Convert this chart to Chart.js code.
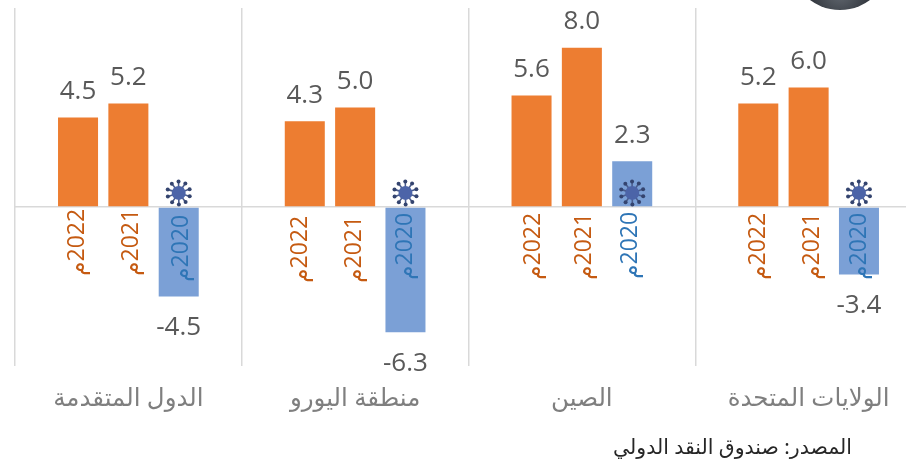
<!DOCTYPE html>
<html>
<head>
<meta charset="utf-8">
<script src="https://cdn.jsdelivr.net/npm/chart.js@4"></script>
<style>
  html, body { margin: 0; padding: 0; background: #fff; overflow: hidden; }
  #wrap { width: 906px; height: 463px; overflow: hidden; position: relative; }
  #chart { position: absolute; left: 0; top: 0; }
</style>
</head>
<body>
<div id="wrap"><canvas id="chart" width="940" height="463"></canvas></div>
<script>
const regions = ["الدول المتقدمة", "منطقة اليورو", "الصين", "الولايات المتحدة"];
const yearLabels = ["2022م", "2021م", "2020م"];
const values2022 = [4.5, 4.3, 5.6, 5.2];
const values2021 = [5.2, 5.0, 8.0, 6.0];
const values2020 = [-4.5, -6.3, 2.3, -3.4];
const sourceText = "المصدر: صندوق النقد الدولي";

// the year labels were placed by hand in the original, so each one has its own nudge
const yearNudgeX = [[-1, -4, 2, 0], [3, -1, 2.5, 4], [3, 0, -2, 0]];
const yearNudgeY = [[2, 9, 6, 6], [2, 9, 6, 6], [8, 6, 5, 6]];

const ORANGE = "#ed7d31";
const BLUE = "#7ba0d6";
const YEAR_ORANGE = "#c55a11";
const YEAR_BLUE = "#2e75b6";
const ARABIC_FONT = '"Noto Sans", "DejaVu Sans", sans-serif';

function drawVirus(ctx, x, y) {
  ctx.save();
  ctx.translate(x, y);
  ctx.strokeStyle = "#4a5c8c";
  ctx.fillStyle = "#34446f";
  ctx.lineWidth = 1.6;
  for (let i = 0; i < 10; i++) {
    const a = (i / 10) * Math.PI * 2 + 0.3;
    ctx.beginPath();
    ctx.moveTo(Math.cos(a) * 6, Math.sin(a) * 6);
    ctx.lineTo(Math.cos(a) * 11, Math.sin(a) * 11);
    ctx.stroke();
    ctx.beginPath();
    ctx.arc(Math.cos(a) * 11.5, Math.sin(a) * 11.5, 2, 0, Math.PI * 2);
    ctx.fill();
  }
  ctx.beginPath();
  ctx.arc(0, 0, 7, 0, Math.PI * 2);
  ctx.fillStyle = "#4c64a8";
  ctx.fill();
  ctx.restore();
}

const annotations = {
  id: "annotations",
  afterDatasetsDraw(chart) {
    const ctx = chart.ctx;
    const zero = chart.scales.y.getPixelForValue(0);

    chart.data.datasets.forEach((ds, d) => {
      chart.getDatasetMeta(d).data.forEach((bar, i) => {
        const v = ds.data[i];

        // value above / below the bar
        ctx.save();
        ctx.font = '26px "Open Sans", sans-serif';
        ctx.fillStyle = "#595959";
        ctx.textAlign = "center";
        ctx.textBaseline = "middle";
        ctx.fillText(v.toFixed(1), bar.x, v >= 0 ? bar.y - 26 : bar.y + 31);
        ctx.restore();

        if (d === 2) drawVirus(ctx, bar.x, zero - 14);

        // year rotated to read upward, right end of the text at the top
        ctx.save();
        ctx.translate(bar.x + yearNudgeX[d][i], zero + yearNudgeY[d][i]);
        ctx.rotate(-Math.PI / 2);
        ctx.font = '23px "Open Sans", ' + ARABIC_FONT;
        ctx.fillStyle = d === 2 ? YEAR_BLUE : YEAR_ORANGE;
        ctx.direction = "rtl";
        ctx.textAlign = "right";
        ctx.textBaseline = "middle";
        ctx.fillText(yearLabels[d], 0, 0);
        ctx.restore();
      });
    });

    // source line
    ctx.save();
    ctx.font = "20.5px " + ARABIC_FONT;
    ctx.fillStyle = "#262626";
    ctx.direction = "rtl";
    ctx.textAlign = "right";
    ctx.textBaseline = "middle";
    ctx.fillText(sourceText, 852, 448);
    ctx.restore();

    // emblem cut off by the top edge
    ctx.save();
    const g = ctx.createRadialGradient(840, -8, 4, 840, -8, 30);
    g.addColorStop(0, "#5d636b");
    g.addColorStop(1, "#33383f");
    ctx.beginPath();
    ctx.arc(840, -40, 50, 0, Math.PI * 2);
    ctx.fillStyle = g;
    ctx.fill();
    ctx.restore();
  }
};

new Chart(document.getElementById("chart"), {
  type: "bar",
  data: {
    labels: regions,
    datasets: [
      { label: yearLabels[0], data: values2022, backgroundColor: ORANGE },
      { label: yearLabels[1], data: values2021, backgroundColor: ORANGE },
      { label: yearLabels[2], data: values2020, backgroundColor: BLUE }
    ]
  },
  options: {
    responsive: false,
    animation: false,
    barPercentage: 0.795,
    categoryPercentage: 0.666,
    layout: { padding: { left: 15, right: 18, top: 8, bottom: 0 } },
    plugins: { legend: { display: false }, tooltip: { enabled: false } },
    scales: {
      x: {
        border: { display: false },
        grid: { offset: true, color: "#d9d9d9", lineWidth: 1.5, drawTicks: false },
        ticks: {
          padding: 18,
          color: "#7f7f7f",
          maxRotation: 0,
          autoSkip: false,
          font: { family: ARABIC_FONT, size: 24.5 }
        },
        afterFit(scale) { scale.height = 97; }
      },
      y: {
        display: true,
        min: -8,
        max: 10,
        border: { display: false },
        grid: {
          drawTicks: false,
          lineWidth: 1.5,
          color: (c) => (c.tick.value === 0 ? "#d9d9d9" : "transparent")
        },
        ticks: { display: false, stepSize: 2 },
        afterFit(scale) { scale.width = 0; }
      }
    }
  },
  plugins: [annotations]
});
</script>
</body>
</html>
